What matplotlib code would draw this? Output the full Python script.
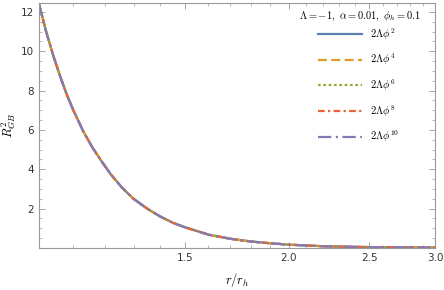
import matplotlib
matplotlib.use("Agg")
import matplotlib.pyplot as plt
import numpy as np
from matplotlib.ticker import FixedLocator, NullFormatter

plt.rcParams["mathtext.fontset"] = "cm"

# values (all five curves coincide)
r = [1.00, 1.02, 1.04, 1.06, 1.08, 1.10, 1.13, 1.16, 1.19, 1.22, 1.26, 1.30,
     1.35, 1.40, 1.45, 1.50, 1.60, 1.70, 1.80, 1.90, 2.00, 2.20, 2.40, 2.60,
     2.80, 3.00]
R2_phi2 = [12.4, 11.0, 9.8, 8.75, 7.8, 7.0, 5.95, 5.1, 4.4, 3.75, 3.05, 2.5,
           2.0, 1.6, 1.28, 1.05, 0.68, 0.47, 0.33, 0.24, 0.17, 0.09, 0.055,
           0.04, 0.03, 0.02]
R2_phi4 = list(R2_phi2)
R2_phi6 = list(R2_phi2)
R2_phi8 = list(R2_phi2)
R2_phi10 = list(R2_phi2)

labels = [r"$2\Lambda\phi^2$", r"$2\Lambda\phi^4$", r"$2\Lambda\phi^6$",
          r"$2\Lambda\phi^8$", r"$2\Lambda\phi^{10}$"]
colors = ["#5E81B5", "#E19C24", "#8FB032", "#EB6235", "#8778B3"]
styles = ["-", (0, (4, 2)), (0, (1.2, 1.2)), (0, (3, 1.5, 1, 1.5)), (0, (6, 2, 1, 2))]

fig = plt.figure(figsize=(4.44, 2.90), dpi=100)
ax = fig.add_axes([0.0878, 0.1448, 0.8919, 0.8449])

for ys, lab, c, ls in zip([R2_phi2, R2_phi4, R2_phi6, R2_phi8, R2_phi10],
                          labels, colors, styles):
    ax.plot(r, ys, color=c, ls=ls, lw=1.6, label=lab)

ax.set_xscale("log")
ax.set_xlim(1.0, 3.0)
ax.set_ylim(0, 12.45)

ax.xaxis.set_major_locator(FixedLocator([1.5, 2.0, 2.5, 3.0]))
ax.xaxis.set_major_formatter(matplotlib.ticker.FixedFormatter(["1.5", "2.0", "2.5", "3.0"]))
ax.xaxis.set_minor_locator(FixedLocator([1.1, 1.2, 1.3, 1.4, 1.6, 1.7, 1.8, 1.9,
                                         2.1, 2.2, 2.3, 2.4, 2.6, 2.7, 2.8, 2.9]))
ax.xaxis.set_minor_formatter(NullFormatter())
ax.set_yticks([2, 4, 6, 8, 10, 12])
ax.set_yticks(np.arange(0.5, 12.5, 0.5), minor=True)

ax.tick_params(which="both", direction="in", top=True, right=True,
               colors="#999999", labelcolor="#333333", labelsize=7.5)
ax.tick_params(which="major", length=4, width=0.6)
ax.tick_params(which="minor", length=2, width=0.5)
for s in ax.spines.values():
    s.set_color("#999999")
    s.set_linewidth(0.8)

ax.set_xlabel(r"$r/r_h$", fontsize=9, labelpad=6)
ax.set_ylabel(r"$R^2_{GB}$", fontsize=9, labelpad=2)

fig.text(360 / 444, 1 - 16 / 290, r"$\Lambda=-1,\ \alpha=0.01,\ \phi_h=0.1$",
         fontsize=7.5, ha="center", va="center")
leg = ax.legend(loc="upper right", bbox_to_anchor=(0.93, 0.94), frameon=False,
                fontsize=7.5, handlelength=4.2,
                labelspacing=0.97, handletextpad=0.8, borderpad=0.3)

fig.savefig("out.png", dpi=100)
